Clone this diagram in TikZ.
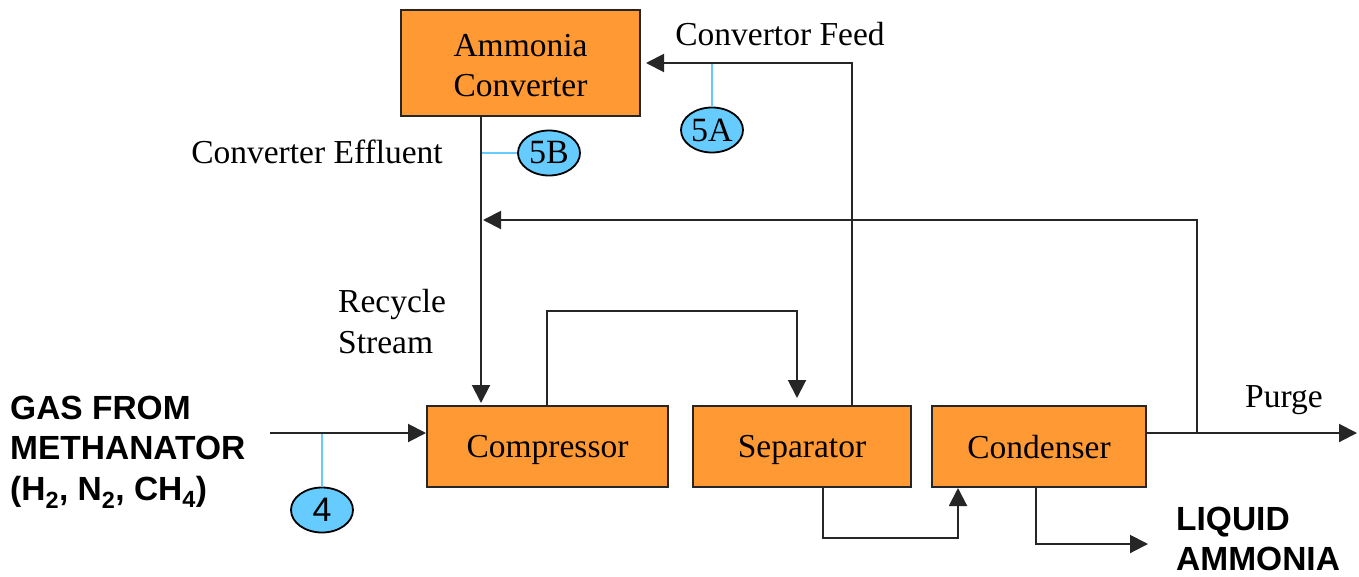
\documentclass[tikz,border=0pt]{standalone}
\usepackage{fontspec}
\setmainfont{Liberation Serif}
\setsansfont{Liberation Sans}
\usetikzlibrary{arrows.meta,shapes.geometric,calc}
\definecolor{boxorange}{HTML}{FF9933}
\definecolor{tagblue}{HTML}{66CCFF}
\begin{document}
\begin{tikzpicture}[x=1pt,y=-1pt,
  unitbox/.style={draw=black!85,line width=2pt,fill=boxorange,inner sep=0pt,text depth=0pt,font=\fontsize{33.5}{40}\selectfont,align=center},
  tag/.style={ellipse,draw=black,line width=1.8pt,fill=tagblue,minimum width=62pt,minimum height=45pt,inner sep=0pt,font=\fontsize{34}{36}\selectfont},
  tie/.style={draw=tagblue,line width=1.5pt},
  flow/.style={draw=black!85,line width=2pt},
  arr/.style={flow,-{Triangle[length=18pt,width=18pt]}},
  lbl/.style={font=\fontsize{33.5}{41}\selectfont,inner sep=0pt},
  biglbl/.style={font=\sffamily\bfseries\fontsize{33.5}{40.5}\selectfont,inner sep=0pt,align=left}]
\useasboundingbox (0,0) rectangle (1359,576);
\fill[white] (0,0) rectangle (1359,576);
% units
\node[unitbox,minimum width=239pt,minimum height=106pt] (conv) at (520.5,63) {\rule{0pt}{26pt}Ammonia\\Converter};
\node[unitbox,minimum width=241pt,minimum height=81pt] (comp) at (547.5,446.5) {Compressor};
\node[unitbox,minimum width=218pt,minimum height=81pt] (sep) at (802,446.5) {Separator};
\node[unitbox,minimum width=214pt,minimum height=81pt] (cond) at (1039,446.5) {Condenser};
% coordinates
\coordinate (gasin) at (270,433);
\coordinate (j) at (1197,433);
\coordinate (rc) at (483,220);
\coordinate (purgeend) at (1357,433);
\coordinate (liqend) at (1148,544);
% flows
\draw[arr] ([xshift=50pt]sep.north) |- ([xshift=5pt]conv.east);
\draw[arr,shorten >=2pt] ([xshift=-39.5pt]conv.south) -- ([xshift=-66.5pt]comp.north);
\draw[arr] (j) |- (rc);
\draw[arr,shorten >=7pt] ([xshift=-0.5pt]comp.north) -- ++(0,-94) -| ([xshift=-5pt]sep.north);
\draw[arr] (gasin) -- (gasin -| comp.west);
\draw[arr] ([xshift=21pt]sep.south) -- ++(0,50) -| ([xshift=-81pt]cond.south);
\draw[arr] ([xshift=-3pt]cond.south) |- (liqend);
\draw[arr] (cond.east |- j) -- (purgeend);
% tags
\node[tag] (t4) at (322,510) {\sffamily 4};
\node[tag] (t5a) at (712,130) {5A};
\node[tag] (t5b) at (549,153) {5B};
\draw[tie] (322,434) -- (t4.north);
\draw[tie] (712,64) -- (t5a.north);
\draw[tie] (482,153) -- (t5b.west);
% labels
\node[lbl] (lfeed) at (780,34) {Convertor Feed};
\node[lbl] (leff) at (317,152) {Converter Effluent};
\node[lbl,anchor=west,align=left] (lrec) at (338,322) {Recycle\\Stream};
\node[lbl] (lpurge) at (1284,400) {Purge};
\node[biglbl,anchor=west] (lgas) at (10,452) {GAS FROM\\METHANATOR\\(H\textsubscript{2}, N\textsubscript{2}, CH\textsubscript{4})};
\node[biglbl,anchor=west] (lliq) at (1176,539) {LIQUID\\AMMONIA};
\end{tikzpicture}
\end{document}
